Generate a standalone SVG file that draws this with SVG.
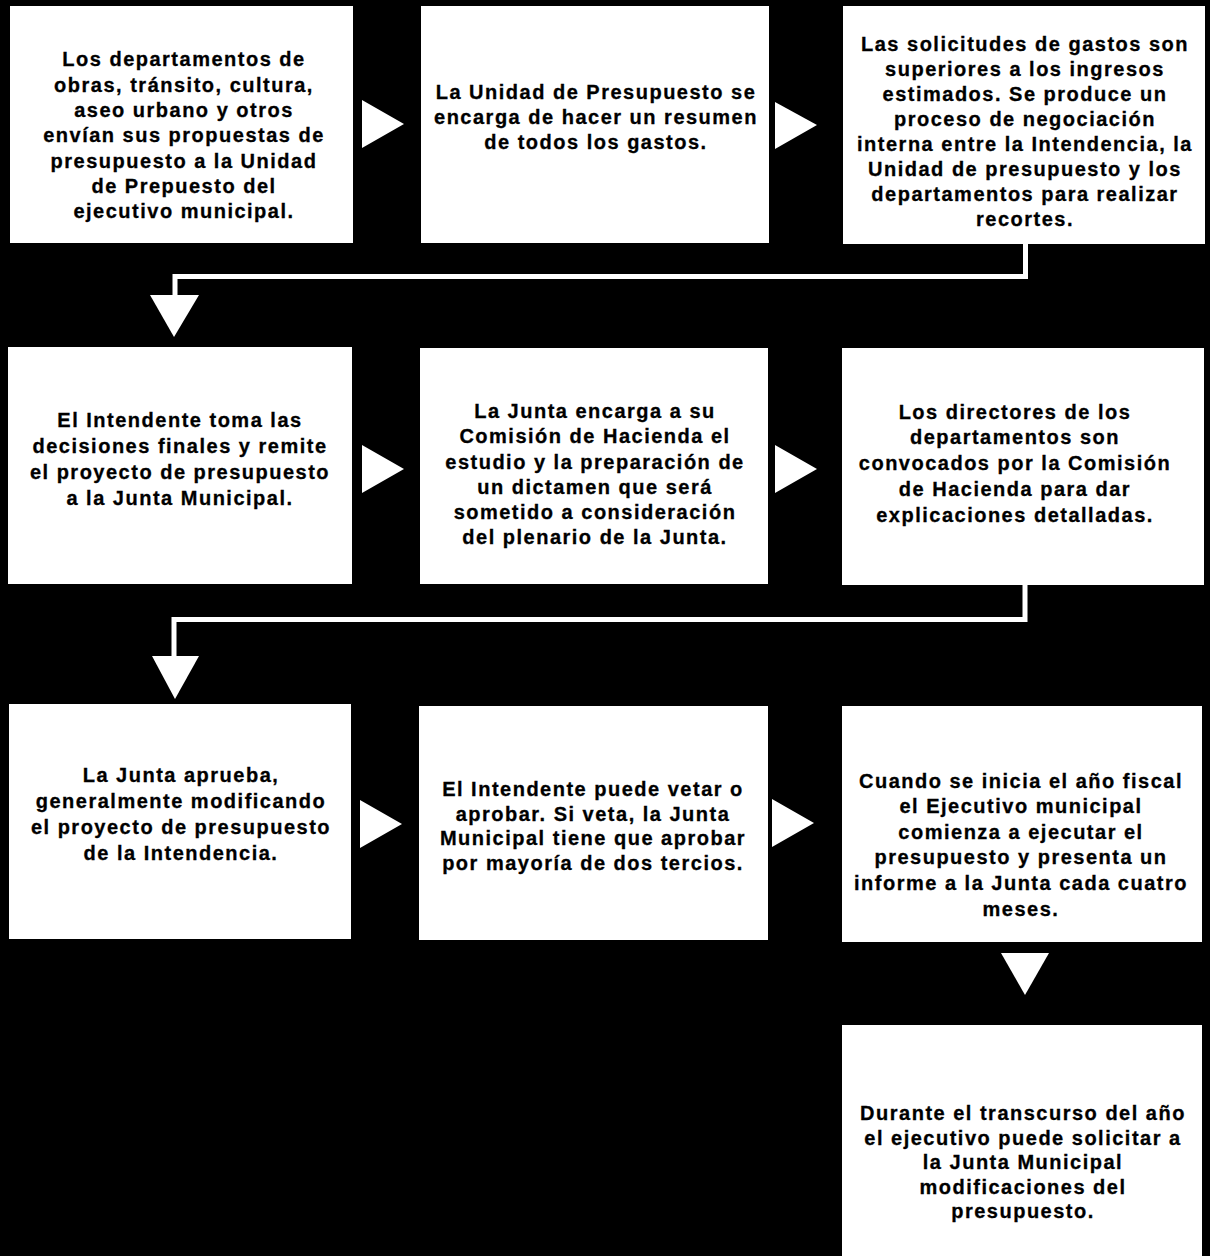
<svg xmlns="http://www.w3.org/2000/svg" width="1210" height="1256" viewBox="0 0 1210 1256">
<style>
.box{fill:#fff;stroke:none}
.t{font-family:"Liberation Sans",Arial,Helvetica,sans-serif;font-weight:bold;font-size:20px;letter-spacing:1.5px;fill:#000;stroke:#000;stroke-width:0.3;text-anchor:middle}
.ar{fill:#fff;stroke:none}
.ln{fill:none;stroke:#fff;stroke-width:5}
</style>
<rect x="0" y="0" width="1210" height="1256" fill="#000"/>
<g id="connectors">
<polygon class="ar" points="362,100 362,148 404,124"/>
<polygon class="ar" points="775,102 775,149 817,125"/>
<polygon class="ar" points="362,445 362,493 404,469"/>
<polygon class="ar" points="775,445 775,493 817,469"/>
<polygon class="ar" points="360,800 360,848 402,824"/>
<polygon class="ar" points="772,799 772,847 814,823"/>
<path class="ln" d="M1025.5,243 V276.5 H175 V297"/>
<polygon class="ar" points="150,295 199,295 174,337"/>
<path class="ln" d="M1025,584 V619.5 H174 V658"/>
<polygon class="ar" points="152,656 199,656 175,699"/>
<polygon class="ar" points="1001,953 1049,953 1025,995"/>
</g>
<g id="n1">
<rect class="box" x="10" y="6" width="343" height="237"/>
<text class="t"><tspan x="184" y="66">Los departamentos de</tspan><tspan x="184" y="91.5">obras, tránsito, cultura,</tspan><tspan x="184" y="117">aseo urbano y otros</tspan><tspan x="184" y="142">envían sus propuestas de</tspan><tspan x="184" y="167.5">presupuesto a la Unidad</tspan><tspan x="184" y="193">de Prepuesto del</tspan><tspan x="184" y="218">ejecutivo municipal.</tspan></text>
</g>
<g id="n2">
<rect class="box" x="421" y="6" width="348" height="237"/>
<text class="t"><tspan x="596" y="99">La Unidad de Presupuesto se</tspan><tspan x="596" y="124">encarga de hacer un resumen</tspan><tspan x="596" y="149">de todos los gastos.</tspan></text>
</g>
<g id="n3">
<rect class="box" x="843" y="6" width="362" height="238"/>
<text class="t"><tspan x="1025" y="51">Las solicitudes de gastos son</tspan><tspan x="1025" y="76">superiores a los ingresos</tspan><tspan x="1025" y="101">estimados. Se produce un</tspan><tspan x="1025" y="126">proceso de negociación</tspan><tspan x="1025" y="151">interna entre la Intendencia, la</tspan><tspan x="1025" y="176">Unidad de presupuesto y los</tspan><tspan x="1025" y="201">departamentos para realizar</tspan><tspan x="1025" y="226">recortes.</tspan></text>
</g>
<g id="n4">
<rect class="box" x="8" y="347" width="344" height="237"/>
<text class="t"><tspan x="180" y="427">El Intendente toma las</tspan><tspan x="180" y="453">decisiones finales y remite</tspan><tspan x="180" y="479">el proyecto de presupuesto</tspan><tspan x="180" y="505">a la Junta Municipal.</tspan></text>
</g>
<g id="n5">
<rect class="box" x="420" y="348" width="348" height="236"/>
<text class="t"><tspan x="595" y="418">La Junta encarga a su</tspan><tspan x="595" y="443">Comisión de Hacienda el</tspan><tspan x="595" y="468.5">estudio y la preparación de</tspan><tspan x="595" y="494">un dictamen que será</tspan><tspan x="595" y="519">sometido a consideración</tspan><tspan x="595" y="544">del plenario de la Junta.</tspan></text>
</g>
<g id="n6">
<rect class="box" x="842" y="348" width="362" height="237"/>
<text class="t"><tspan x="1015" y="419">Los directores de los</tspan><tspan x="1015" y="444">departamentos son</tspan><tspan x="1015" y="470">convocados por la Comisión</tspan><tspan x="1015" y="496">de Hacienda para dar</tspan><tspan x="1015" y="522">explicaciones detalladas.</tspan></text>
</g>
<g id="n7">
<rect class="box" x="9" y="704" width="342" height="235"/>
<text class="t"><tspan x="181" y="782">La Junta aprueba,</tspan><tspan x="181" y="808">generalmente modificando</tspan><tspan x="181" y="834">el proyecto de presupuesto</tspan><tspan x="181" y="860">de la Intendencia.</tspan></text>
</g>
<g id="n8">
<rect class="box" x="419" y="706" width="349" height="234"/>
<text class="t"><tspan x="593" y="796">El Intendente puede vetar o</tspan><tspan x="593" y="820.5">aprobar. Si veta, la Junta</tspan><tspan x="593" y="845">Municipal tiene que aprobar</tspan><tspan x="593" y="870">por mayoría de dos tercios.</tspan></text>
</g>
<g id="n9">
<rect class="box" x="842" y="706" width="360" height="236"/>
<text class="t"><tspan x="1021" y="788">Cuando se inicia el año fiscal</tspan><tspan x="1021" y="813">el Ejecutivo municipal</tspan><tspan x="1021" y="839">comienza a ejecutar el</tspan><tspan x="1021" y="864">presupuesto y presenta un</tspan><tspan x="1021" y="890">informe a la Junta cada cuatro</tspan><tspan x="1021" y="916">meses.</tspan></text>
</g>
<g id="n10">
<rect class="box" x="842" y="1025" width="360" height="231"/>
<text class="t"><tspan x="1023" y="1120">Durante el transcurso del año</tspan><tspan x="1023" y="1145">el ejecutivo puede solicitar a</tspan><tspan x="1023" y="1169">la Junta Municipal</tspan><tspan x="1023" y="1194">modificaciones del</tspan><tspan x="1023" y="1218">presupuesto.</tspan></text>
</g>
</svg>
